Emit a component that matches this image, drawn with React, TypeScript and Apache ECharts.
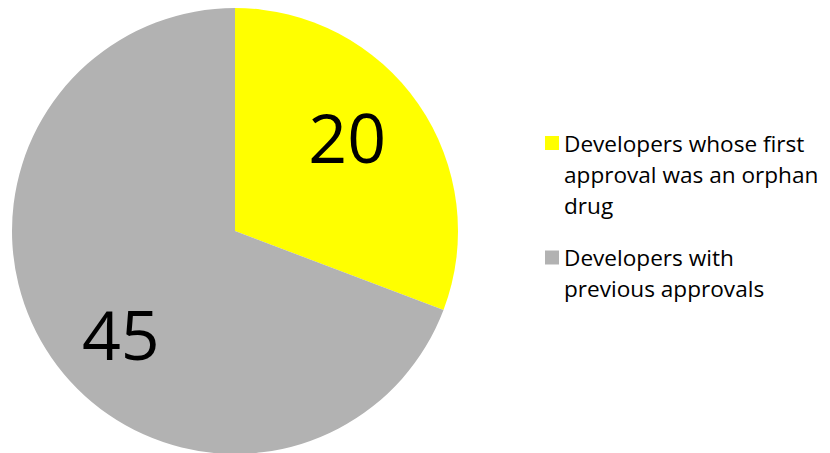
import React, { useEffect, useRef } from "react";
import * as echarts from "echarts";

const categories = [
  "Developers whose first approval was an orphan drug",
  "Developers with previous approvals",
];
const legendLines = [
  ["Developers whose first", "approval was an orphan", "drug"],
  ["Developers with", "previous approvals"],
];
const values = [20, 45];
const colors = ["#FFFF00", "#B2B2B2"];
const labelShift = [
  [18, -29],
  [-20, 37],
];

const FONT = "'Open Sans', 'Noto Sans', sans-serif";
const LINE = 31;

export default function App() {
  const ref = useRef<HTMLDivElement>(null);
  useEffect(() => {
    document.body.style.margin = "0";
    const chart = echarts.init(ref.current!, null, { renderer: "svg" });
    chart.setOption({
      animation: false,
      backgroundColor: "#FFFFFF",
      legend: {
        orient: "vertical",
        left: 545,
        top: 65.5,
        padding: 0,
        itemWidth: 14,
        itemHeight: 14,
        itemGap: -9.5,
        icon: "rect",
        textStyle: {
          fontFamily: FONT,
          fontSize: 22.6,
          color: "#000000",
          lineHeight: LINE,
        },
        formatter: (name: string) => {
          const lines = legendLines[categories.indexOf(name)];
          // leading blank lines keep the first text line level with the icon
          const pad = new Array(lines.length - 1).fill(" ");
          return pad.concat(lines).join("\n");
        },
        data: categories,
      },
      series: [
        {
          type: "pie",
          center: [235, 231],
          radius: 223,
          startAngle: 90,
          clockwise: true,
          silent: true,
          label: {
            show: true,
            position: "inside",
            formatter: "{c}",
            fontFamily: FONT,
            fontSize: 68,
            color: "#000000",
          },
          labelLine: { show: false },
          labelLayout: (params: any) => {
            const s = labelShift[params.dataIndex];
            return { dx: s[0], dy: s[1] };
          },
          itemStyle: { borderWidth: 0 },
          data: categories.map((name, i) => ({
            name,
            value: values[i],
            itemStyle: { color: colors[i] },
          })),
        },
      ],
    });
    return () => chart.dispose();
  }, []);
  return (
    <div
      ref={ref}
      style={{ position: "absolute", left: 0, top: 0, width: 830, height: 453 }}
    />
  );
}
